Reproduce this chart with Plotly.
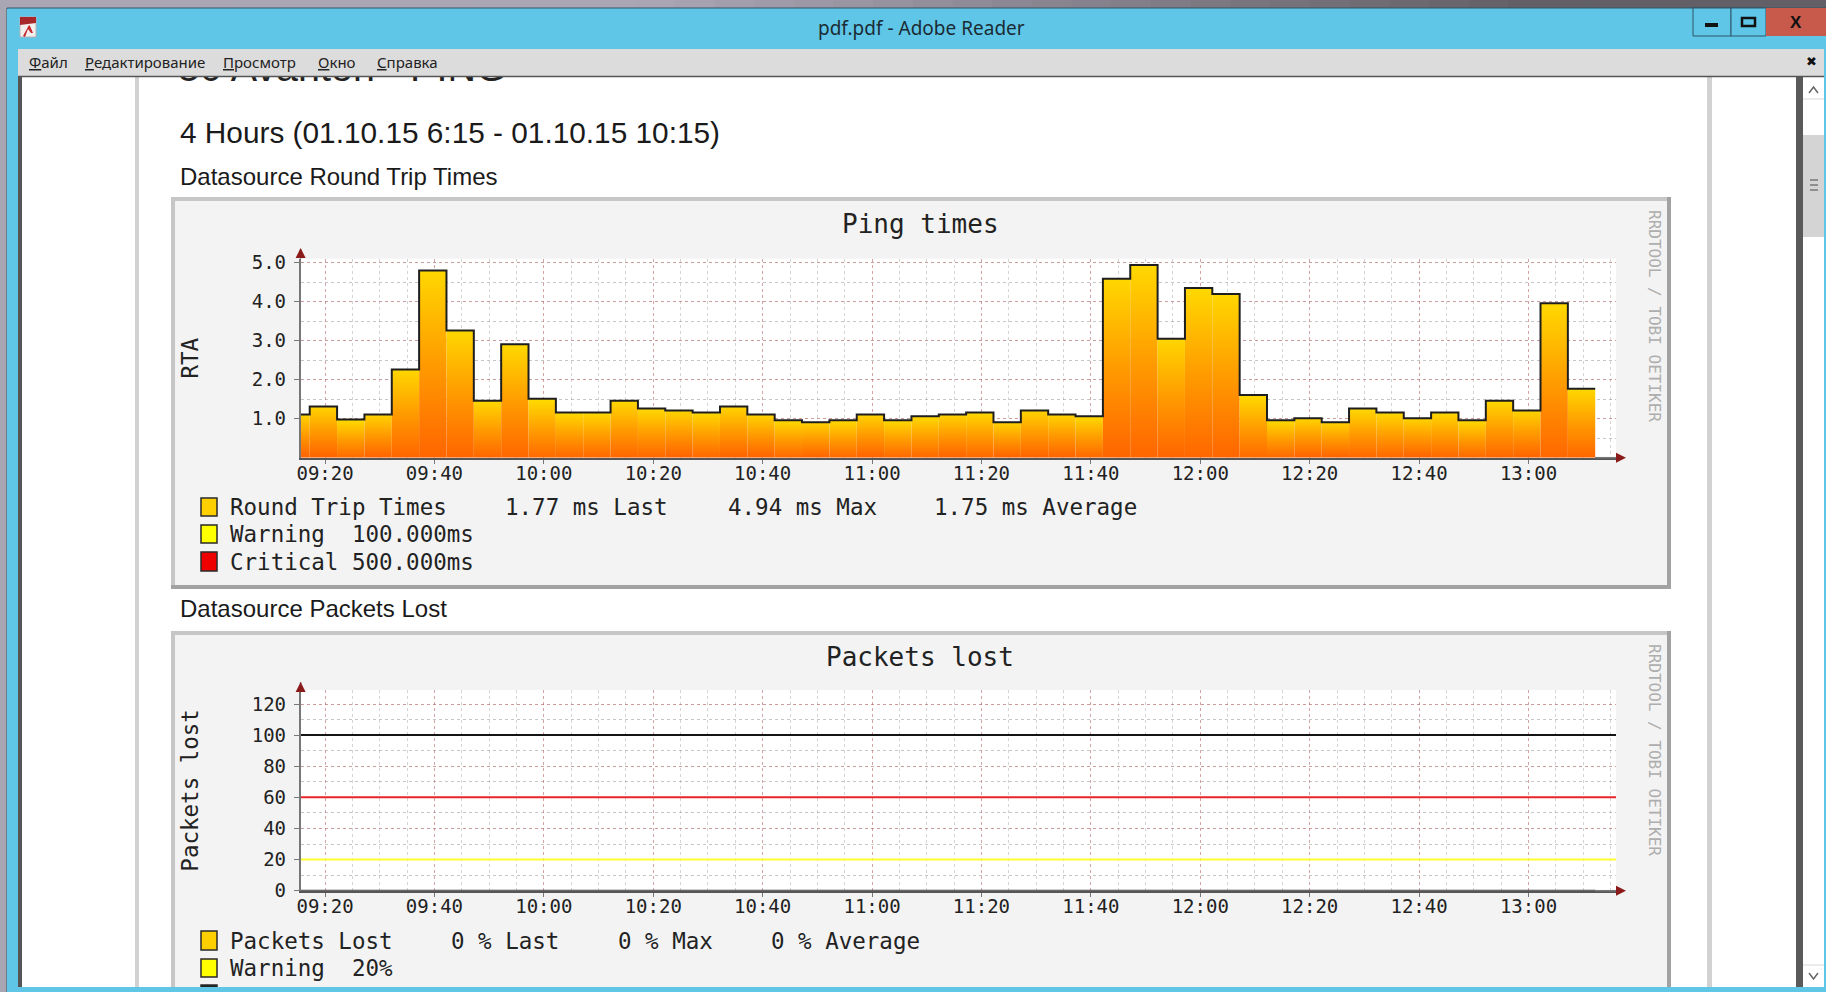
from datetime import datetime, timedelta
import plotly.graph_objects as go

W, H = 1826, 992
MONO = "DejaVu Sans Mono"
ARIAL = "Liberation Sans"
UI = "Noto Sans"

# ---------- data ----------
RTA_VALUES = [1.11, 1.31, 0.98, 1.11, 2.26, 4.80, 3.26, 1.46, 2.91, 1.51, 1.16, 1.16,
              1.46, 1.26, 1.21, 1.16, 1.31, 1.11, 0.96, 0.91, 0.96, 1.11, 0.96, 1.06,
              1.11, 1.16, 0.91, 1.21, 1.11, 1.06, 4.59, 4.94, 3.05, 4.35, 4.20, 1.61,
              0.96, 1.01, 0.91, 1.26, 1.16, 1.01, 1.16, 0.96, 1.46, 1.21, 3.96, 1.77]
RTA_TICKS = [1, 2, 3, 4, 5]
RTA_LABELS = ["1.0", "2.0", "3.0", "4.0", "5.0"]
LOST_TICKS = [0, 20, 40, 60, 80, 100, 120]
LOST_LABELS = ["0", "20", "40", "60", "80", "100", "120"]
LOST_LEVEL = [100, 100]
CRIT_LEVEL = [60, 60]
WARN_LEVEL = [20, 20]
TIME_LABELS = ["09:20", "09:40", "10:00", "10:20", "10:40", "11:00", "11:20",
               "11:40", "12:00", "12:20", "12:40", "13:00"]

DAY = "2015-10-01 "
TIME_TICKS = [DAY + t for t in TIME_LABELS]
X_START = datetime(2015, 10, 1, 9, 15, 32)
X_FIRST_STEP = datetime(2015, 10, 1, 9, 17, 12)
X_END = datetime(2015, 10, 1, 13, 16, 0)
edges = [X_START] + [X_FIRST_STEP + timedelta(minutes=5 * i) for i in range(len(RTA_VALUES))]
LOST_ZERO = [0] * len(edges)


def px(x):
    return x / W


def py(y):
    return 1 - y / H


shapes = []


def rect(x0, y0, x1, y1, fill, layer="below", line=None, lw=0):
    shapes.append(dict(type="rect", xref="paper", yref="paper", x0=px(x0), x1=px(x1),
                       y0=py(y0), y1=py(y1), fillcolor=fill, layer=layer,
                       line=dict(color=line or fill, width=lw)))


def poly(points, fill, layer="above", line=None, lw=0):
    d = "M" + " L".join(f"{px(x):.6f},{py(y):.6f}" for x, y in points) + " Z"
    shapes.append(dict(type="path", xref="paper", yref="paper", path=d, fillcolor=fill,
                       layer=layer, line=dict(color=line or fill, width=lw)))


def hline(x0, x1, y, color, lw=1, layer="above"):
    shapes.append(dict(type="line", xref="paper", yref="paper", x0=px(x0), x1=px(x1),
                       y0=py(y), y1=py(y), layer=layer, line=dict(color=color, width=lw)))


def vline(x, y0, y1, color, lw=1, layer="above"):
    shapes.append(dict(type="line", xref="paper", yref="paper", x0=px(x), x1=px(x),
                       y0=py(y0), y1=py(y1), layer=layer, line=dict(color=color, width=lw)))


annotations = []


def text(x, y, s, size, font=MONO, color="#222", anchor="left", angle=0):
    annotations.append(dict(xref="paper", yref="paper", x=px(x), y=py(y), text=s, showarrow=False,
                            xanchor=anchor, yanchor="middle", textangle=angle,
                            font=dict(family=font, size=size, color=color)))


# ---------- window chrome ----------
BLUE = "#5FC6E8"
for i in range(46):
    t = max(0, (i / 45 - 0.35) / 0.5)
    t = min(t, 1)
    c = tuple(int(a + (b - a) * t) for a, b in zip((170, 166, 180), (98, 95, 102)))
    rect(i * W / 46, 0, (i + 1) * W / 46 + 1, 8, "rgb(%d,%d,%d)" % c)
rect(0, 0, 7, H, "#a9a6b4")
rect(7, 8, W, H, BLUE)
hline(7, W, 8, "#2f5568", 1, "below")
vline(7, 8, H, "#2f5568", 1, "below")
rect(22, 77, 1796, 987, "#ffffff")
rect(18, 77, 22, 987, "#555555")
rect(135, 77, 139, 987, "#d2d2d2")
rect(1707, 77, 1712, 987, "#d2d2d2")
rect(1796, 77, 1803, 987, "#5a5a5a")
rect(1803, 77, 1824, 987, "#ffffff")
rect(1803, 135, 1824, 237, "#d4d4d4")
hline(1803, 1824, 99, "#d8d8d8", 1, "below")
hline(1803, 1824, 965, "#d8d8d8", 1, "below")
for gy in (180, 185, 190):
    hline(1810, 1818, gy, "#777", 1.5, "below")
# scroll arrows
shapes.append(dict(type="path", xref="paper", yref="paper", layer="below", line=dict(color="#666", width=1.5),
                   path=f"M{px(1809)},{py(93)} L{px(1813.5)},{py(87)} L{px(1818)},{py(93)}"))
shapes.append(dict(type="path", xref="paper", yref="paper", layer="below", line=dict(color="#666", width=1.5),
                   path=f"M{px(1809)},{py(973)} L{px(1813.5)},{py(979)} L{px(1818)},{py(973)}"))

# ---------- report panels ----------
for top, bottom in ((197, 589), (631, 987)):
    rect(171, top, 1671, bottom, "#c6c6c6")
    rect(175, top + 4, 1671, bottom, "#f3f3f3")
    rect(1667, top, 1671, bottom, "#a2a2a2")
    if bottom < 980:
        rect(171, bottom - 4, 1671, bottom, "#a2a2a2")
PLOT_L, PLOT_R = 300.6, 1616
P1_T, P1_B = 258.8, 457.7
P2_T, P2_B = 690.0, 890.7
rect(PLOT_L, P1_T, PLOT_R, P1_B, "#ffffff")
rect(PLOT_L, P2_T, PLOT_R, P2_B, "#ffffff")

# ---------- traces ----------
fig = go.Figure()
for i, v in enumerate(RTA_VALUES):
    x1 = edges[i + 1] if i + 1 < len(edges) else edges[-1]
    fig.add_trace(go.Scatter(
        x=[edges[i], x1], y=[v, v], mode="none", fill="tozeroy", hoverinfo="skip", showlegend=False,
        fillgradient=dict(type="vertical", start=v, stop=0,
                          colorscale=[[0, "#FFD800"], [0.5, "#FF9C00"], [1, "#FF6600"]]),
        xaxis="x", yaxis="y"))
fig.add_trace(go.Scatter(x=edges, y=RTA_VALUES + [RTA_VALUES[-1]], mode="lines", name="Round Trip Times",
                         line=dict(color="#1e1e1e", width=2, shape="hv"), showlegend=False,
                         xaxis="x", yaxis="y"))
ends = [X_START, X_END]
for name, vals, col in (("Critical", LOST_LEVEL, "#141414"), ("Critical 60", CRIT_LEVEL, "#E8262A"),
                        ("Warning", WARN_LEVEL, "#FFFF33")):
    fig.add_trace(go.Scatter(x=ends, y=vals, mode="lines", name=name, line=dict(color=col, width=2),
                             showlegend=False, xaxis="x2", yaxis="y2"))
fig.add_trace(go.Scatter(x=edges, y=LOST_ZERO, mode="lines", name="Packets Lost", cliponaxis=False,
                         line=dict(color="#3a3a3a", width=2, shape="hv"), showlegend=False,
                         xaxis="x2", yaxis="y2"))
# texts that slide under the window frame
fig.add_trace(go.Scatter(x=[178], y=[71], mode="text", text=["50 Avanton - PING"], textposition="middle right",
                         textfont=dict(family=ARIAL, size=39.5, color="#222"), hoverinfo="skip",
                         showlegend=False, cliponaxis=False, xaxis="x3", yaxis="y3"))
fig.add_trace(go.Scatter(x=[228], y=[993], mode="text", text=["Critical  60%"], textposition="middle right",
                         textfont=dict(family=MONO, size=22.5, color="#222"), hoverinfo="skip",
                         showlegend=False, cliponaxis=False, xaxis="x3", yaxis="y3"))

# ---------- axis arrows ----------
ARROW = "#8B1A1A"
vline(PLOT_L, 249, P1_T, "#888", 1.5)
vline(PLOT_L, 682, P2_T, "#888", 1.5)
hline(1595, 1620, P1_B, "#777", 1.5)
hline(1595, 1620, P2_B, "#777", 1.5)
for b_y, t_y in ((P1_B, 248), (P2_B, 682)):
    poly([(PLOT_L - 5, t_y + 10), (PLOT_L + 5, t_y + 10), (PLOT_L, t_y)], ARROW)
    poly([(1616, b_y - 5), (1616, b_y + 5), (1626, b_y)], ARROW)

# ---------- legends ----------
SW = "#2a2a2a"
def swatch(y0, y1, fill, layer="above"):
    rect(201, y0, 217, y1, fill, layer, SW, 1.5)

swatch(498, 516, "#FFD000")
swatch(525, 543, "#FFFF00")
swatch(552, 571, "#EE0000")
swatch(931, 950, "#FFD000")
swatch(959, 977, "#FFFF00")
swatch(985, 991, "#222222")
LEG = 22.5
text(228, 507, "Round Trip Times", LEG)
text(503, 507, "1.77 ms Last", LEG)
text(726, 507, "4.94 ms Max", LEG)
text(932, 507, "1.75 ms Average", LEG)
text(228, 534, "Warning  100.000ms", LEG)
text(228, 562, "Critical 500.000ms", LEG)
text(228, 941, "Packets Lost", LEG)
text(449, 941, "0 % Last", LEG)
text(616, 941, "0 % Max", LEG)
text(769, 941, "0 % Average", LEG)
text(228, 968, "Warning  20%", LEG)
text(920, 224, "Ping times", 26, anchor="center")
text(920, 657, "Packets lost", 26, anchor="center")
text(1655, 316, "RRDTOOL / TOBI OETIKER", 16, color="#aeaeae", anchor="center", angle=90)
text(1655, 750, "RRDTOOL / TOBI OETIKER", 16, color="#aeaeae", anchor="center", angle=90)

# ---------- page text ----------
text(178, 132, "4 Hours (01.10.15 6:15 - 01.10.15 10:15)", 29.8, ARIAL, "#1a1a1a")
text(178, 176, "Datasource Round Trip Times", 24, ARIAL, "#1a1a1a")
text(178, 608, "Datasource Packets Lost", 24, ARIAL, "#1a1a1a")

# ---------- frame pieces above the page ----------
rect(7, 9, W, 49, BLUE, "above")
rect(18, 49, W - 1, 76, "#dcdcdc", "above")
hline(18, W - 1, 76.5, "#555555", 1.5)
rect(7, 987, W, H, BLUE, "above")
rect(W - 2, 49, W, H, BLUE, "above")
rect(7, 49, 18, 987, BLUE, "above")
# window buttons
rect(1693, 8, 1731, 36, BLUE, "above", "#2f5568", 1)
rect(1731, 8, 1766, 36, BLUE, "above", "#2f5568", 1)
rect(1766, 8, 1826, 36, "#C75A4A", "above")
rect(1705, 23, 1718, 27, "#111", "above")
rect(1742, 18, 1755, 26, BLUE, "above", "#111", 2.5)
text(1796, 22, "<b>X</b>", 17, ARIAL, "#111", "center")
text(1811, 61, "<b>✖</b>", 13, "DejaVu Sans", "#111", "center")
# application icon
rect(20, 17, 36, 37, "#f4eeee", "above", "#b9b2b2", 1)
poly([(20, 17), (36, 17), (36, 23), (20, 25)], "#A8272B")
poly([(23, 36), (29, 25), (30, 26), (33, 33), (31, 33), (28, 29), (25, 37)], "#C4282C")

text(921, 28, "pdf.pdf - Adobe Reader", 19, UI, "#1b2b33", "center")
U = '<span style="text-decoration:underline">%s</span>'
for mx, first, rest in ((27, "Ф", "айл"), (83, "Р", "едактирование"), (221, "П", "росмотр"),
                        (316, "О", "кно"), (375, "С", "правка")):
    text(mx, 62, U % first + rest, 15, UI, "#222")


# ---------- axes ----------
def x_axis(anchor):
    return dict(domain=[px(PLOT_L), px(PLOT_R)], anchor=anchor, type="date",
                range=[X_START, X_END], tickmode="array", tickvals=TIME_TICKS, ticktext=TIME_LABELS,
                ticks="outside", ticklen=4, tickwidth=1, tickcolor="#777",
                ticklabelstandoff=-7,
                tickfont=dict(family=MONO, size=19, color="#222"),
                showgrid=True, gridcolor="rgba(214,90,90,0.38)", griddash="dot", gridwidth=1,
                minor=dict(tick0=DAY + "09:20", dtick=300000, showgrid=True,
                           gridcolor="rgba(120,120,120,0.32)", griddash="dot", gridwidth=1),
                showline=True, linecolor="#555", linewidth=2, zeroline=False)


def y_axis(anchor, dom, rng, ticks, labels, minor, title):
    return dict(domain=dom, anchor=anchor, range=rng, tickmode="array", tickvals=ticks, ticktext=labels,
                ticks="outside", ticklen=5, tickwidth=1, tickcolor="#777", ticklabelstandoff=4,
                tickfont=dict(family=MONO, size=19, color="#222"),
                showgrid=True, gridcolor="rgba(214,90,90,0.38)", griddash="dot", gridwidth=1,
                minor=dict(dtick=minor, tick0=0, showgrid=True,
                           gridcolor="rgba(120,120,120,0.42)", griddash="dot", gridwidth=1),
                showline=True, linecolor="#777", linewidth=1.5, zeroline=False,
                title=dict(text=title, font=dict(family=MONO, size=22.5, color="#222"), standoff=47))


fig.update_layout(
    width=W, height=H, autosize=False, margin=dict(l=0, r=0, t=0, b=0, pad=0, autoexpand=False),
    paper_bgcolor="#ffffff", plot_bgcolor="rgba(0,0,0,0)", showlegend=False,
    shapes=shapes, annotations=annotations, hovermode=False,
    xaxis=x_axis("y"),
    yaxis=y_axis("x", [py(P1_B), py(P1_T)], [0, 5.1], RTA_TICKS, RTA_LABELS, 0.5, "RTA"),
    xaxis2=x_axis("y2"),
    yaxis2=y_axis("x2", [py(P2_B), py(P2_T)], [0, 129], LOST_TICKS, LOST_LABELS, 10, "Packets lost"),
    xaxis3=dict(domain=[0, 1], range=[0, W], visible=False, anchor="y3", fixedrange=True),
    yaxis3=dict(domain=[0, 1], range=[H, 0], visible=False, anchor="x3", fixedrange=True),
)

PAGE_FIX = """
var s=document.createElement('style');
s.textContent='html,body{margin:0!important;padding:0!important;overflow:hidden!important;width:1826px;height:992px}';
document.head.appendChild(s);
"""
fig.write_html("out.html", config=dict(displayModeBar=False), post_script=PAGE_FIX)
